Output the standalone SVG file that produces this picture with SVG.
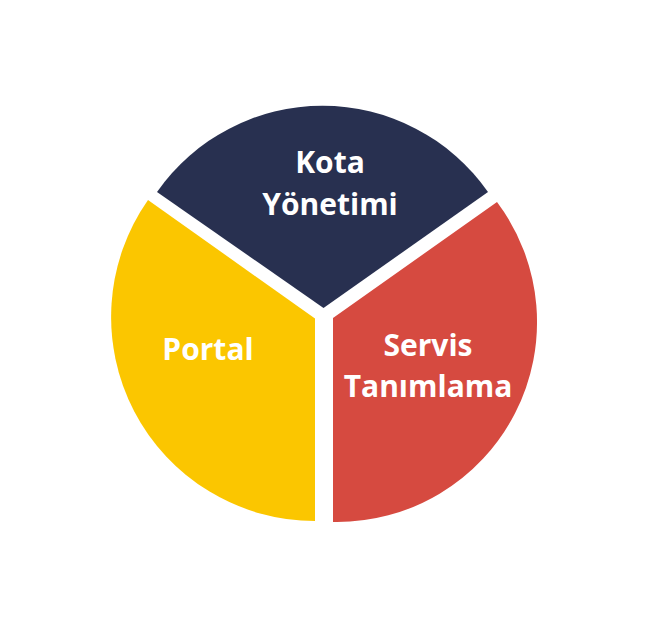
<svg xmlns="http://www.w3.org/2000/svg" width="653" height="623" viewBox="0 0 653 623">
  <style>
    .label { font-family: "Open Sans", "Liberation Sans", sans-serif; font-weight: 700; font-size: 30px; fill: #ffffff; text-anchor: middle; }
  </style>
  <rect width="653" height="623" fill="#ffffff"/>
  <!-- exploded pie: each slice is drawn around its own apex -->
  <g id="kota-yonetimi">
    <path d="M 323.5 308 L 157 192 A 202 202 0 0 1 488 192 Z" fill="#283050"/>
    <text class="label" x="330" y="173">Kota</text>
    <text class="label" x="330" y="215">Yönetimi</text>
  </g>
  <g id="portal">
    <path d="M 315 318.5 L 315 521 A 204 204 0 0 1 148 200 Z" fill="#fbc600"/>
    <text class="label" x="208" y="360">Portal</text>
  </g>
  <g id="servis-tanimlama">
    <path d="M 333 318 L 497 202 A 200 200 0 0 1 333 522 Z" fill="#d64a40"/>
    <text class="label" x="428" y="356">Servis</text>
    <text class="label" x="428" y="397">Tanımlama</text>
  </g>
  <g id="connectors"/>
</svg>
